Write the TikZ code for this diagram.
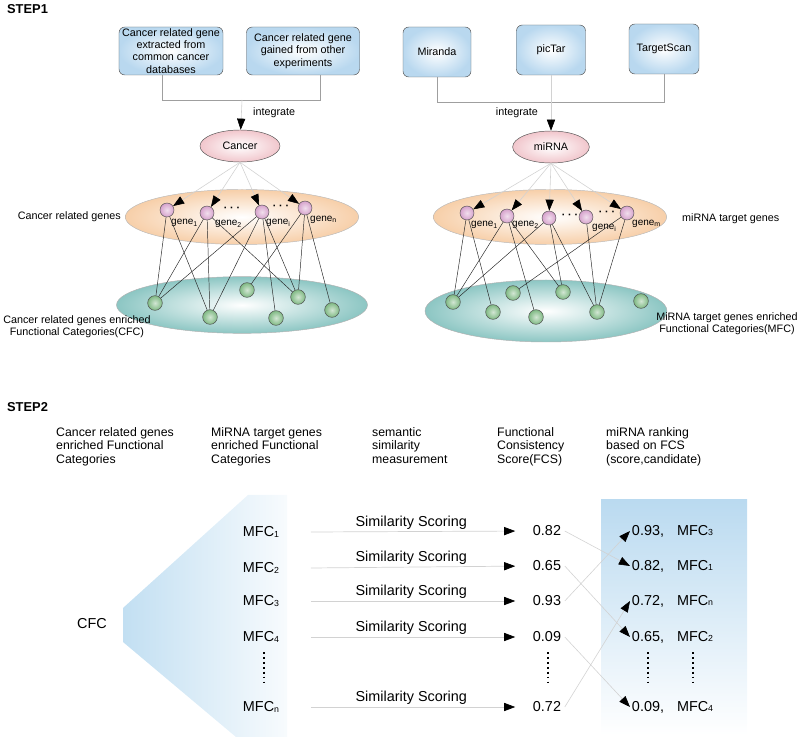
\documentclass[tikz,border=0pt]{standalone}
\usepackage{fontspec}
\setmainfont{Liberation Sans}
\usetikzlibrary{shapes.geometric,arrows.meta}

\definecolor{boxblue}{HTML}{B9D8EF}
\definecolor{pinkfill}{HTML}{F1C6CC}
\definecolor{peach}{HTML}{F7CFA9}
\definecolor{catteal}{HTML}{8CC6C3}
\definecolor{genepink}{HTML}{D6A2CC}
\definecolor{catgreen}{HTML}{7FB983}
\definecolor{rankblue}{HTML}{BADAF0}
\definecolor{funnelblue}{HTML}{C2DFF2}

\newcommand{\boxfont}{\fontsize{9.2}{10.5}\selectfont}
\newcommand{\headfont}{\fontsize{10.5}{11.6}\selectfont}
\newcommand{\bigfont}{\fontsize{12.3}{14}\selectfont}
\newcommand{\idx}[1]{\raisebox{-0.6pt}{\fontsize{7.5}{8}\selectfont #1}}

\begin{document}
\begin{tikzpicture}[x=0.03cm, y=-0.03cm, >={Triangle[length=9.5pt,width=7pt,color=black,fill=black]},
    src box/.style={draw=gray!70!black, rounded corners=5pt, inner color=white, outer color=boxblue, align=center, font=\boxfont, inner sep=1pt, minimum height=1.44cm},
    set node/.style={ellipse, draw=gray!65!black, inner color=white, inner sep=0pt, font=\boxfont},
    gene node/.style={circle, draw=gray!60!black, inner color=genepink!35, outer color=genepink, minimum size=0.42cm, inner sep=0pt},
    cat node/.style={circle, draw=gray!60!black, inner color=catgreen!35, outer color=catgreen, minimum size=0.44cm, inner sep=0pt},
    glabel/.style={anchor=west, inner sep=0pt, font=\fontsize{8.5}{9}\selectfont},
    gdots/.style={inner sep=0pt, font=\bfseries\fontsize{9}{9}\selectfont},
    bracket/.style={draw=gray!75, line width=0.6pt},
    pointer/.style={->, gray!35, line width=0.5pt},
    link/.style={black!85, line width=0.4pt},
    head/.style={anchor=north west, align=left, inner sep=0pt, font=\headfont},
    mfc/.style={inner sep=3pt, font=\bigfont},
    sim/.style={->, gray!35, line width=0.6pt, shorten >=0.42cm},
    simlabel/.style={above, pos=0.46, text=black, font=\bigfont, inner sep=1.5pt},
    vdots/.style={line width=1.4pt, dash pattern=on 1.6pt off 2.6pt},
    stepfont/.style={anchor=west, font=\bfseries\fontsize{11}{13}\selectfont}]

    \useasboundingbox (0,0) rectangle (800,737);

    % STEP1
    \node[stepfont] at (3,9) (step1) {STEP1};

    \node[src box, minimum width=3.12cm] at (171,51) (db) {Cancer related gene\\extracted from\\common cancer\\databases};
    \node[src box, minimum width=3.39cm] at (303,51) (exp) {Cancer related gene\\gained from other\\experiments};
    \node[src box, minimum width=2.04cm, minimum height=1.5cm] at (437,52) (miranda) {Miranda};
    \node[src box, minimum width=2.07cm, minimum height=1.5cm] at (551,50) (pictar) {picTar};
    \node[src box, minimum width=2.1cm, minimum height=1.5cm] at (664,49) (tscan) {TargetScan};

    \node[set node, outer color=pinkfill, minimum width=2.4cm, minimum height=0.96cm] at (240,146) (cancer) {Cancer};
    \node[set node, outer color=pinkfill, minimum width=2.3cm, minimum height=0.96cm] at (551,147) (mirna) {miRNA};

    \coordinate (merge1) at (242,100);
    \draw[bracket] ([xshift=-0.27cm]db.south) -- ++(0,25) -| ([xshift=0.51cm]exp.south);
    \draw[bracket] (miranda.south) -- ++(0,25) -| (tscan.south);
    \path[pointer] (merge1) edge (cancer);
    \path[pointer] (pictar.south) edge (mirna);
    \node[anchor=west, font=\boxfont] at (249,113) (int1) {integrate};
    \node[anchor=east, font=\boxfont] at (542,113) (int2) {integrate};

    % gene sets and enriched categories
    \node[set node, draw=gray!55, outer color=peach, minimum width=7cm, minimum height=1.65cm] at (242,217) (cgenes) {};
    \node[set node, draw=gray!55, outer color=peach, minimum width=7cm, minimum height=1.65cm] at (550,217) (mgenes) {};
    \node[set node, draw=gray!60, outer color=catteal, minimum width=7.53cm, minimum height=1.7cm] at (242,305) (ccats) {};
    \node[set node, draw=gray!60, outer color=catteal, minimum width=7.26cm, minimum height=1.86cm] at (546,311) (mcats) {};

    \node[anchor=east, font=\boxfont] at (125,217) (cglabel) {Cancer related genes};
    \node[anchor=west, font=\boxfont] at (678,219) (mglabel) {miRNA target genes};
    \node[align=center, font=\boxfont] at (77,327) (cclabel) {Cancer related genes enriched\\Functional Categories(CFC)};
    \node[align=center, font=\boxfont] at (727,324) (mclabel) {MiRNA target genes enriched\\Functional Categories(MFC)};

    \node[gene node] at (167,210) (g1) {};
    \node[gene node] at (207,213) (g2) {};
    \node[gene node] at (262,212) (gi) {};
    \node[gene node] at (305,208) (gn) {};
    \node[glabel] at (171,223) (lg1) {gene\textsubscript{1}};
    \node[glabel] at (215,224) (lg2) {gene\textsubscript{2}};
    \node[glabel] at (266,223) (lgi) {gene\textsubscript{i}};
    \node[glabel] at (310,220) (lgn) {gene\textsubscript{n}};
    \node[gdots] at (232,209) (dots1) {·\hspace{2.5pt}·\hspace{2.5pt}·};
    \node[gdots] at (281,207) (dots2) {·\hspace{2.5pt}·\hspace{2.5pt}·};

    \node[gene node] at (467,213) (h1) {};
    \node[gene node] at (507,216) (h2) {};
    \node[gene node] at (549,218) (h3) {};
    \node[gene node] at (586,217) (h4) {};
    \node[gene node] at (627,213) (h5) {};
    \node[glabel] at (471,225) (lh1) {gene\textsubscript{1}};
    \node[glabel] at (512,225) (lh2) {gene\textsubscript{2}};
    \node[glabel] at (592,228) (lhi) {gene\textsubscript{i}};
    \node[glabel] at (632,224) (lhm) {gene\textsubscript{m}};
    \node[gdots] at (570,216) (dots3) {·\hspace{2.5pt}·\hspace{2.5pt}·};
    \node[gdots] at (607,213) (dots4) {·\hspace{2.5pt}·\hspace{2.5pt}·};

    \node[cat node] at (155,303) (c1) {};
    \node[cat node] at (210,317) (c2) {};
    \node[cat node] at (247,290) (c3) {};
    \node[cat node] at (276,318) (c4) {};
    \node[cat node] at (298,297) (c5) {};
    \node[cat node] at (332,310) (c6) {};

    \node[cat node] at (453,302) (d1) {};
    \node[cat node] at (493,312) (d2) {};
    \node[cat node] at (513,293) (d3) {};
    \node[cat node] at (536,317) (d4) {};
    \node[cat node] at (563,292) (d5) {};
    \node[cat node] at (597,312) (d6) {};
    \node[cat node] at (641,301) (d7) {};

    \path[pointer] (cancer.south) edge (g1);
    \path[pointer] (cancer.south) edge (g2);
    \path[pointer] (cancer.south) edge (gi);
    \path[pointer] (cancer.south) edge (gn);
    \path[pointer] (mirna.south) edge (h1);
    \path[pointer] (mirna.south) edge (h2);
    \path[pointer] (mirna.south) edge (h3);
    \path[pointer] (mirna.south) edge (h4);
    \path[pointer] (mirna.south) edge (h5);

    \path[link] (g1) edge (c1);
    \path[link] (g1) edge (c2);
    \path[link] (g2) edge (c1);
    \path[link] (g2) edge (c2);
    \path[link] (g2) edge (c5);
    \path[link] (gi) edge (c1);
    \path[link] (gi) edge (c2);
    \path[link] (gi) edge (c4);
    \path[link] (gi) edge (c5);
    \path[link] (gn) edge (c3);
    \path[link] (gn) edge (c5);
    \path[link] (gn) edge (c6);

    \path[link] (h1) edge (d1);
    \path[link] (h1) edge (d2);
    \path[link] (h2) edge (d1);
    \path[link] (h2) edge (d4);
    \path[link] (h2) edge (d5);
    \path[link] (h3) edge (d1);
    \path[link] (h3) edge (d5);
    \path[link] (h3) edge (d6);
    \path[link] (h4) edge (d6);
    \path[link] (h5) edge (d3);
    \path[link] (h5) edge (d6);

    % STEP2
    \node[stepfont] at (3,407) (step2) {STEP2};
    \node[head] at (56,427) (col1) {Cancer related genes\\enriched Functional\\Categories};
    \node[head] at (211,427) (col2) {MiRNA target genes\\enriched Functional\\Categories};
    \node[head] at (372,427) (col3) {semantic\\similarity\\measurement};
    \node[head] at (497,427) (col4) {Functional\\Consistency\\Score(FCS)};
    \node[head] at (606,427) (col5) {miRNA ranking\\based on FCS\\(score,candidate)};

    \shade[left color=funnelblue, right color=funnelblue!12] (123,608) -- (248,495) -- (287,495) -- (287,737) -- (236,737) -- (123,642) -- cycle;
    \shade[top color=rankblue, bottom color=white] (601,500) rectangle (747,735);

    \node[mfc] at (92,624) (cfc) {CFC};
    \node[mfc] at (261,532) (m1) {MFC\idx{1}};
    \node[mfc] at (261,568) (m2) {MFC\idx{2}};
    \node[mfc] at (261,601) (m3) {MFC\idx{3}};
    \node[mfc] at (261,637) (m4) {MFC\idx{4}};
    \node[mfc] at (261,707) (mn) {MFC\idx{n}};

    \node[mfc] at (547,531) (s1) {0.82};
    \node[mfc] at (547,566) (s2) {0.65};
    \node[mfc] at (547,601) (s3) {0.93};
    \node[mfc] at (547,637) (s4) {0.09};
    \node[mfc] at (547,707) (s5) {0.72};

    \node[mfc, anchor=west, inner sep=1.5pt] at (630,531) (r1) {0.93,\hspace{0.9em}MFC\idx{3}};
    \node[mfc, anchor=west, inner sep=1.5pt] at (630,566) (r2) {0.82,\hspace{0.9em}MFC\idx{1}};
    \node[mfc, anchor=west, inner sep=1.5pt] at (630,601) (r3) {0.72,\hspace{0.9em}MFC\idx{n}};
    \node[mfc, anchor=west, inner sep=1.5pt] at (630,637) (r4) {0.65,\hspace{0.9em}MFC\idx{2}};
    \node[mfc, anchor=west, inner sep=1.5pt] at (630,707) (r5) {0.09,\hspace{0.9em}MFC\idx{4}};

    \path[sim] ([xshift=0.84cm]m1.east) edge node[simlabel] {Similarity Scoring} (s1.west);
    \path[sim] ([xshift=0.84cm]m2.east) edge node[simlabel] {Similarity Scoring} (s2.west);
    \path[sim] ([xshift=0.84cm]m3.east) edge node[simlabel] {Similarity Scoring} (s3.west);
    \path[sim] ([xshift=0.84cm]m4.east) edge node[simlabel] {Similarity Scoring} (s4.west);
    \path[sim] ([xshift=0.84cm]mn.east) edge node[simlabel] {Similarity Scoring} (s5.west);

    \path[pointer] (s1.east) edge (r2.west);
    \path[pointer] (s2.east) edge (r4.west);
    \path[pointer] (s3.east) edge (r1.west);
    \path[pointer] (s4.east) edge (r5.west);
    \path[pointer] (s5.east) edge (r3.west);

    \draw[vdots] (264,652) -- (264,684);
    \draw[vdots] (548,652) -- (548,684);
    \draw[vdots] (648,652) -- (648,684);
    \draw[vdots] (693,652) -- (693,684);
\end{tikzpicture}
\end{document}
